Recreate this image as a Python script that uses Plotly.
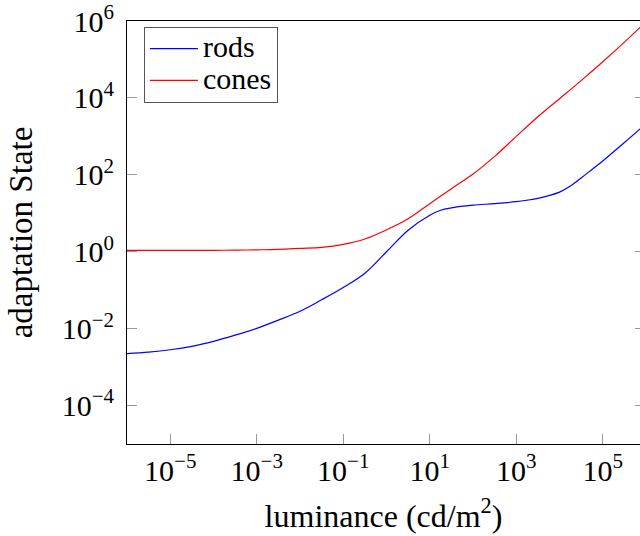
import plotly.graph_objects as go

rods_lum = [1e-6, 3.16e-6, 1e-5, 3.16e-5, 1e-4, 3.16e-4, 1e-3, 3.16e-3, 1e-2, 3.16e-2,
            1e-1, 3.16e-1, 1, 3.16, 10, 17.8, 31.6,
            100, 316, 1000, 1780, 3160, 5620, 1e4, 1.78e4, 3.16e4, 5.62e4, 1e5, 3.16e5, 1e6]
rods = [2.24e-3, 2.45e-3, 2.82e-3, 3.47e-3, 4.68e-3, 6.76e-3, 1.02e-2, 1.66e-2, 2.82e-2, 5.62e-2,
        0.117, 0.275, 1.0, 3.63, 8.9, 12.0, 13.8,
        16.2, 17.8, 20.0, 21.9, 24.5, 28.8, 35.5, 51.3, 83, 138, 229, 692, 2140]

cones_lum = [1e-6, 3.16e-6, 1e-5, 3.16e-5, 1e-4, 3.16e-4, 1e-3, 3.16e-3, 1e-2, 3.16e-2,
             1e-1, 3.16e-1, 1, 3.16, 10, 31.6, 100, 316, 1000, 3160,
             1e4, 3.16e4, 1e5, 3.16e5, 1e6]
cones = [1.08, 1.08, 1.08, 1.08, 1.09, 1.10, 1.12, 1.15, 1.22, 1.30,
         1.55, 2.14, 3.72, 7.24, 17.8, 43.7, 105, 302, 1000, 3240,
         9550, 28200, 87100, 282000, 955000]

x_tickvals = [1e-5, 1e-3, 1e-1, 1e1, 1e3, 1e5]
x_ticktext = ["10<sup>−5</sup>", "10<sup>−3</sup>", "10<sup>−1</sup>", "10<sup>1</sup>", "10<sup>3</sup>", "10<sup>5</sup>"]
y_tickvals = [1e-4, 1e-2, 1, 1e2, 1e4, 1e6]
y_ticktext = ["10<sup>−4</sup>", "10<sup>−2</sup>", "10<sup>0</sup>", "10<sup>2</sup>", "10<sup>4</sup>", "10<sup>6</sup>"]

FONT = "'Liberation Serif', 'Times New Roman', serif"

fig = go.Figure()
fig.add_trace(go.Scatter(x=rods_lum, y=rods, mode="lines",
                         name='<span style="font-size:30px">rods</span>',
                         line=dict(color="#0000ff", width=1.2, shape="spline", smoothing=1.0)))
fig.add_trace(go.Scatter(x=cones_lum, y=cones, mode="lines",
                         name='<span style="font-size:30px">cones</span>',
                         line=dict(color="#ff0000", width=1.2, shape="spline", smoothing=1.0)))
# invisible trace for right-side ticks
fig.add_trace(go.Scatter(x=[rods_lum[0]], y=[rods[0]], yaxis="y2", mode="lines",
                         showlegend=False, hoverinfo="skip", line=dict(width=0)))

fig.update_layout(
    width=640, height=536,
    margin=dict(l=127, r=0, t=14, b=92),
    paper_bgcolor="white", plot_bgcolor="white",
    font=dict(family=FONT, size=29, color="black"),
    showlegend=True,
    legend=dict(x=0.033, y=0.986, xanchor="left", yanchor="top",
                bgcolor="white", bordercolor="#555555", borderwidth=1,
                font=dict(family=FONT, size=22), tracegroupgap=0,
                itemwidth=48),
    xaxis=dict(type="log", range=[-6, 5.86], showgrid=False, zeroline=False,
               showline=True, linecolor="black", linewidth=1, mirror=True,
               ticks="inside", ticklen=10, tickcolor="#999999", tickwidth=1,
               tickvals=x_tickvals, ticktext=x_ticktext,
               tickfont=dict(family=FONT, size=30),
               title=dict(text="luminance (cd/m<sup>2</sup>)", standoff=18,
                          font=dict(family=FONT, size=32))),
    yaxis=dict(type="log", range=[-5, 6], showgrid=False, zeroline=False,
               showline=True, linecolor="black", linewidth=1, mirror=False,
               ticks="inside", ticklen=10, tickcolor="#999999", tickwidth=1,
               tickvals=y_tickvals, ticktext=y_ticktext, ticklabelstandoff=6,
               ticklabeloverflow="allow",
               tickfont=dict(family=FONT, size=30),
               title=dict(text="adaptation State", standoff=19,
                          font=dict(family=FONT, size=33))),
    yaxis2=dict(type="log", range=[-5, 6], overlaying="y", side="right",
                showgrid=False, zeroline=False, showline=False,
                ticks="inside", ticklen=5, tickcolor="#999999", tickwidth=1,
                tickvals=y_tickvals, showticklabels=False),
)

fig.write_html("out.html")
